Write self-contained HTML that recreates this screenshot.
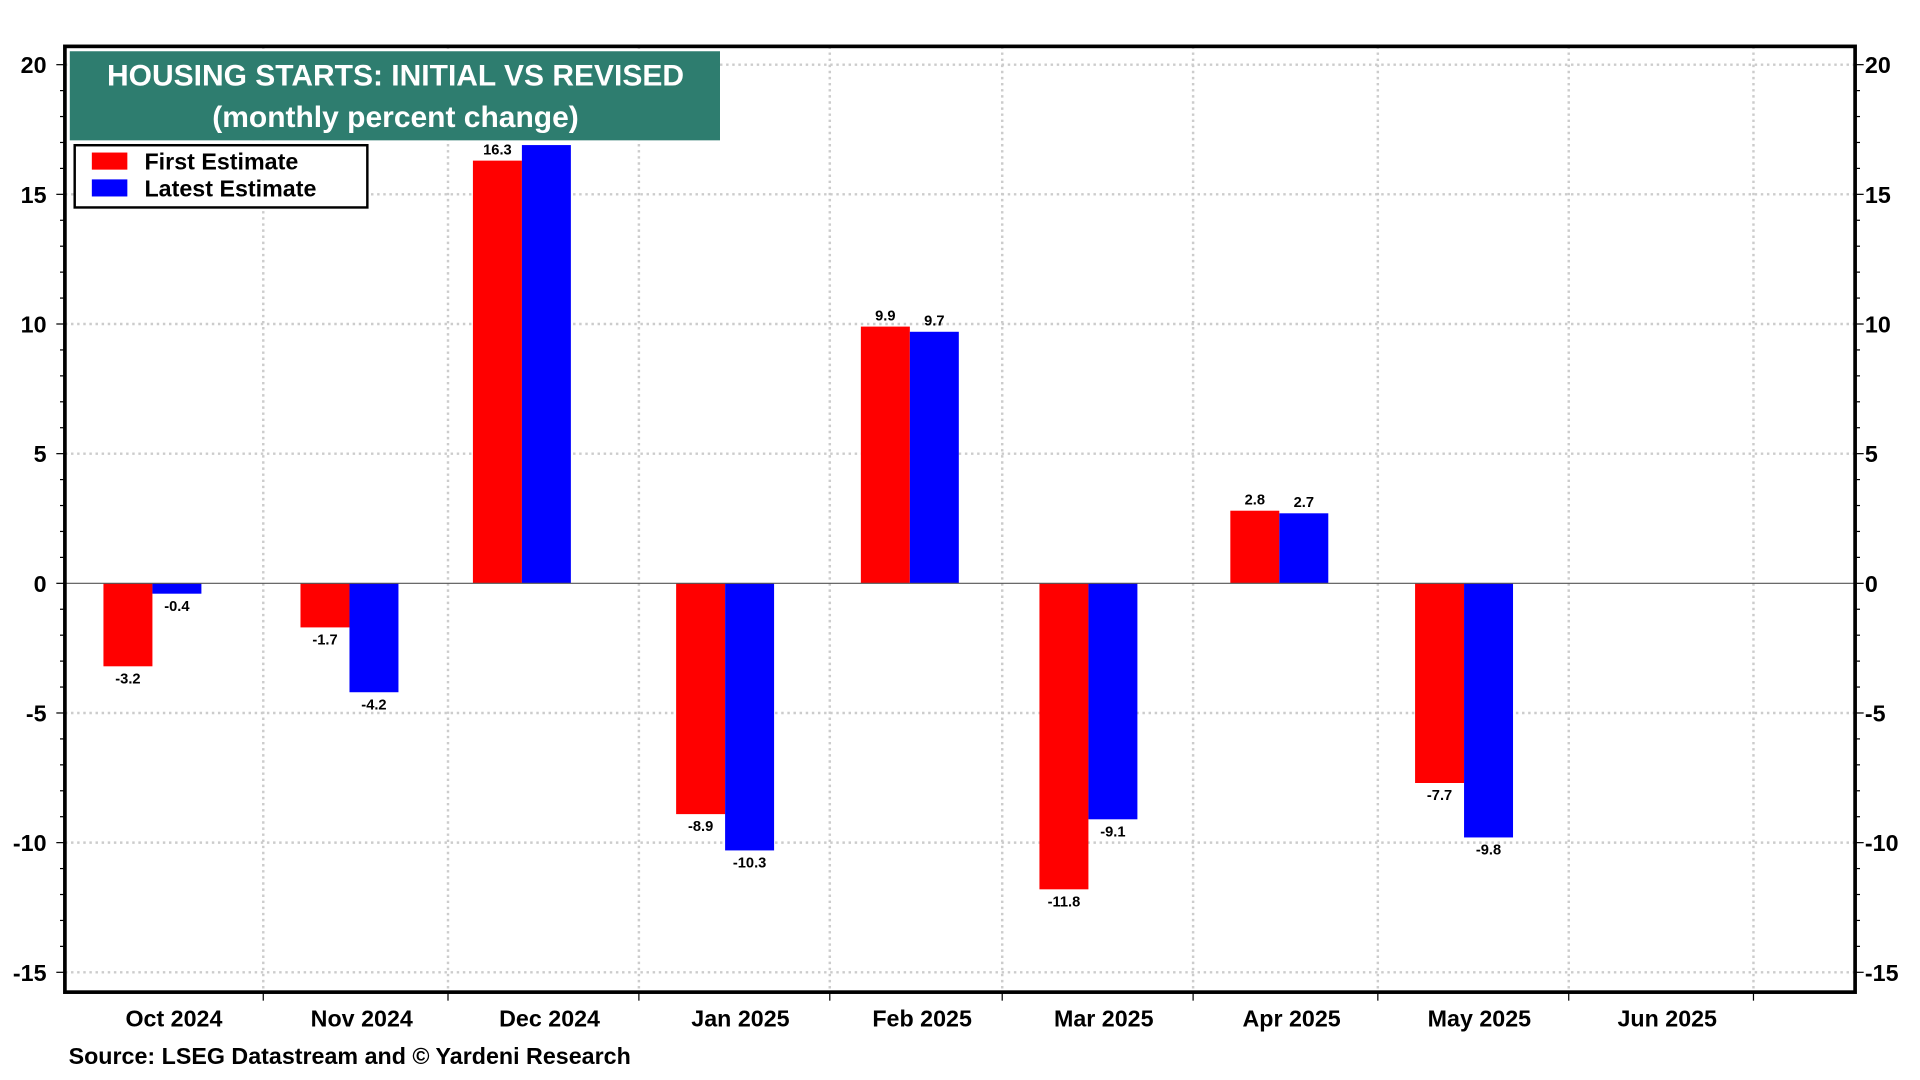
<!DOCTYPE html>
<html><head><meta charset="utf-8"><style>
html,body{margin:0;padding:0;background:#fff;}
svg{display:block;font-family:"Liberation Sans",Arial,sans-serif;font-weight:bold;}
</style></head><body>
<svg id="chart" width="1920" height="1080" viewBox="0 0 1568 885" preserveAspectRatio="none" xmlns="http://www.w3.org/2000/svg">
<g id="grid"></g>
<g id="bars"></g>
<g id="axes"></g>
<rect x="57" y="42" width="531" height="73" fill="#2e7d6f"/>
<text x="323" y="70" fill="#fff" font-size="24.5" text-anchor="middle">HOUSING STARTS: INITIAL VS REVISED</text>
<text x="323" y="104" fill="#fff" font-size="24.5" text-anchor="middle">(monthly percent change)</text>
<g>
<rect x="61" y="119" width="239" height="51" fill="#fff" stroke="#000" stroke-width="2"/>
<rect x="75" y="125" width="29" height="14" fill="#ff0000"/>
<text x="118" y="139" font-size="19">First Estimate</text>
<rect x="75" y="147" width="29" height="14" fill="#0000ff"/>
<text x="118" y="161" font-size="19">Latest Estimate</text>
</g>
<text x="56" y="872" font-size="19">Source: LSEG Datastream and © Yardeni Research</text>
</svg>
<script>
const dates = ['2024-10-14','2024-11-15','2024-12-13','2025-01-15','2025-02-14','2025-03-15','2025-04-15','2025-05-15'];
const firstEstimate = [-3.2,-1.7,16.3,-8.9,9.9,-11.8,2.8,-7.7];
const latestEstimate = [-0.4,-4.2,16.9,-10.3,9.7,-9.1,2.7,-9.8];
const showLatestLabel = [true,true,false,true,true,true,true,true];
const yTicks = [20,15,10,5,0,-5,-10,-15];
const monthLabels = ['Oct 2024','Nov 2024','Dec 2024','Jan 2025','Feb 2025','Mar 2025','Apr 2025','May 2025','Jun 2025'];
const monthStarts = ['2024-10-01','2024-11-01','2024-12-01','2025-01-01','2025-02-01','2025-03-01','2025-04-01','2025-05-01','2025-06-01','2025-07-01'];

const NS='http://www.w3.org/2000/svg';
const L=53,R=1515,T=38,B=813;
const t0=Date.parse('2024-11-01'), t1=Date.parse('2025-07-01');
function x(d){return 215+(Date.parse(d)-t0)/(t1-t0)*(1432-215);}
function y(v){return 478-v*21.25;}
function mk(tag,attrs,parent){const e=document.createElementNS(NS,tag);for(const k in attrs)e.setAttribute(k,attrs[k]);parent.appendChild(e);return e;}
const grid=document.getElementById('grid'),bars=document.getElementById('bars'),axes=document.getElementById('axes');

yTicks.forEach(v=>{
  if(v!==0){const g=mk('line',{x1:L,x2:R,y1:y(v),y2:y(v),stroke:'#ccc','stroke-width':2,'stroke-dasharray':'2,3'},grid);
  
  }
  const tl=mk('text',{x:L-15,y:y(v)+7,'font-size':19,'text-anchor':'end'},axes);tl.textContent=v;
  
  
  const tr=mk('text',{x:R+8,y:y(v)+7,'font-size':19},axes);tr.textContent=v;
  
  
});
for(let v=-16;v<=21;v++){
  if(y(v)<T||y(v)>B)continue;
  const len=v%5===0?7:4;
  mk('line',{x1:L-len,x2:L,y1:y(v),y2:y(v),stroke:'#000','stroke-width':1},axes);
  mk('line',{x1:R,x2:R+len,y1:y(v),y2:y(v),stroke:'#000','stroke-width':1},axes);
}
monthStarts.forEach((d,i)=>{
  const xx=x(d);
  if(i>0&&xx<R){const g=mk('line',{x1:xx,x2:xx,y1:T,y2:B,stroke:'#ccc','stroke-width':2,'stroke-dasharray':'2,3'},grid);
  
  
  mk('line',{x1:xx,x2:xx,y1:B,y2:B+7,stroke:'#000','stroke-width':1},axes);}
  if(i<monthLabels.length){
    const cx=(x(d)+x(monthStarts[i+1]))/2;
    const t=mk('text',{x:cx+5,y:841,'font-size':19,'text-anchor':'middle'},axes);t.textContent=monthLabels[i];
    
    
  }
});
const z=mk('line',{x1:L,x2:R,y1:y(0),y2:y(0),stroke:'#555','stroke-width':1},axes);


const frame=mk('rect',{x:L,y:T,width:R-L,height:B-T,fill:'none',stroke:'#000','stroke-width':3},axes);



const W=40;
function bar(d,v,off,color,name,label){
  const xx=x(d)+off, y0=y(0), yv=y(v);
  const r=mk('rect',{x:xx,y:Math.min(y0,yv),width:W,height:Math.abs(yv-y0),fill:color},bars);
  
  
  if(label){
    const ty=v>=0?yv-5:yv+14;
    const t=mk('text',{x:xx+W/2,y:ty,'font-size':12,'text-anchor':'middle'},bars);t.textContent=v.toFixed(1);
    
    
  }
}
dates.forEach((d,i)=>{
  bar(d,firstEstimate[i],-W,'#ff0000','bar-first-estimate',true);
  bar(d,latestEstimate[i],0,'#0000ff','bar-latest-estimate',showLatestLabel[i]);
});
</script>
</body></html>
